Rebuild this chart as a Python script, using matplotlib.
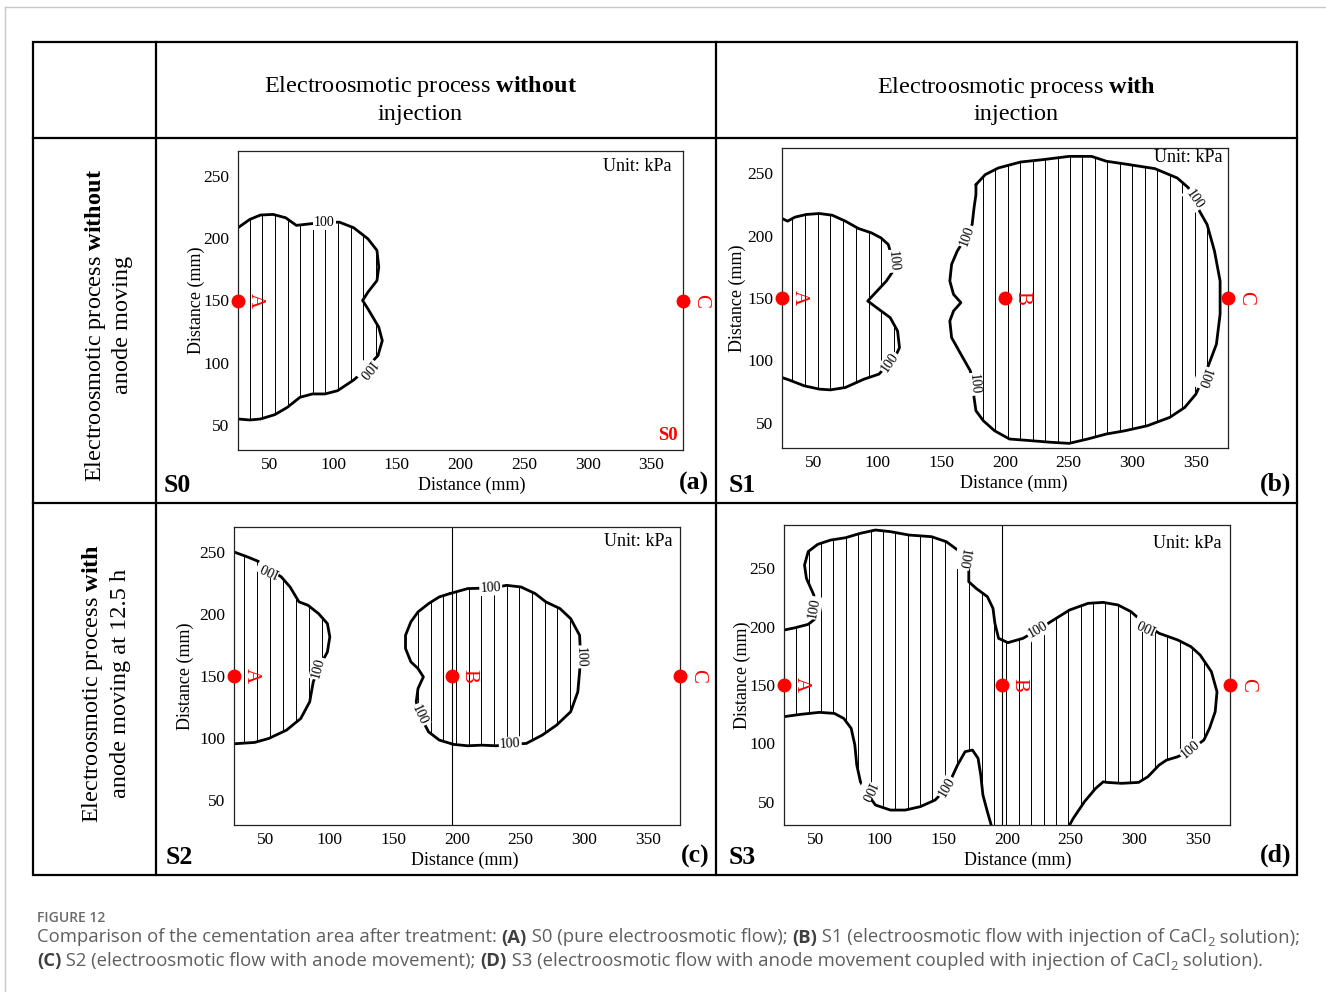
import numpy as np
import matplotlib
matplotlib.use("Agg")
import matplotlib.pyplot as plt
from matplotlib.patches import Polygon, Rectangle
from matplotlib.font_manager import FontProperties

plt.rcParams["font.family"] = "Liberation Serif"
plt.rcParams["mathtext.fontset"] = "custom"
plt.rcParams["mathtext.rm"] = "Liberation Serif"
plt.rcParams["mathtext.bf"] = "Liberation Serif:bold"

# ---- data (mm) ----
a_x = [25, 34.3, 42.7, 52.6, 62.5, 70.9, 82.2, 92.9, 104.7, 116, 127.2, 134.3, 135.7, 134.3,
       127.2, 123, 127.2, 135.7, 138.5, 135.1, 130, 125.8, 116, 103.3, 93.4, 83.6, 73.7,
       63.9, 54, 42.7, 34.3, 25]
a_y = [208.4, 215.1, 218.6, 219.1, 216.4, 210.3, 211.6, 212.5, 212.9, 208.4, 199.5, 190.2,
       176.8, 166, 156.7, 150, 143.3, 128.6, 117.8, 105.8, 100.4, 95, 86.2, 77.6, 75, 75,
       72.3, 64.3, 58.4, 54.9, 54.1, 54.9]

b_left_x = [25, 29.4, 35.2, 44, 54.3, 64.5, 74.7, 85, 95.2, 102.5, 108.4, 111.5, 111.3, 106.9,
            99.6, 92.3, 101.1, 109.9, 115.7, 117.2, 114.2, 101.1, 89.4, 74.7, 63, 54.3, 42.6,
            30.9, 25]
b_left_y = [213.6, 211.5, 214.7, 216.8, 217.6, 216.2, 211.5, 205.6, 202.1, 198.2, 192.8, 182,
            170.2, 163.6, 155.6, 147.6, 140.9, 134.3, 123.6, 110.3, 103.7, 89.1, 85.1, 78.4,
            76.5, 77.1, 79.7, 84.3, 86.4]
b_right_x = [177.2, 184.5, 194.7, 212.3, 229.8, 250.3, 267.9, 279.6, 294.2, 317.6, 335.2, 344,
             348.4, 352.7, 358.6, 364.4, 368.8, 368.8, 365.9, 360, 355.6, 349.8, 341, 329.3,
             311.7, 294.2, 279.6, 264.9, 250.3, 235.7, 221.1, 203.5, 191.8, 183, 177.2, 175.7,
             174.2, 172.8, 165.4, 158.1, 156.7, 159.6, 165.4, 159.6, 156.7, 158.1, 162.5,
             169.8, 174.2, 175.7, 177.2]
b_right_y = [240.7, 248.7, 254, 258.8, 260.7, 263.3, 263.3, 259.4, 257.2, 253.5, 246, 238.1,
             228.8, 219.4, 208.8, 187.5, 163.6, 137, 113, 97, 86.4, 73.1, 62.4, 54.5, 47.8,
             43.8, 41.2, 37.2, 33.7, 34.6, 35.8, 37.2, 43.8, 51.8, 59.8, 70.4, 83.7, 91.7, 105,
             118.3, 131.6, 139.6, 146.3, 152.9, 163.6, 176.9, 187.5, 199.5, 208.8, 222.1, 232.7]

c_left_x = [25, 35.6, 45.3, 52.3, 62.1, 69, 76, 83, 91.3, 98.3, 100.2, 98.3, 91.3, 87.2, 84.4,
            77.4, 66.2, 52.3, 41.2, 25]
c_left_y = [249.9, 245.9, 241.8, 236.5, 229.8, 221.7, 209.7, 207, 200.3, 192.2, 181.5, 169.4,
            156, 145.3, 129.2, 115.8, 106.4, 99.7, 96.5, 95.4]
c_right_x = [194.5, 208.4, 226.5, 239, 250.2, 261.3, 269.7, 280.8, 289.2, 296.2, 297, 296.2,
             294.8, 289.2, 278.1, 266.9, 254.4, 241.8, 230.7, 219.5, 208.4, 197.3, 186.1, 177.7,
             170.8, 168, 169.4, 173.6, 169.4, 163.8, 159.6, 159.6, 163.8, 169.4, 177.7, 186.1]
c_right_y = [216.4, 220.4, 220.9, 223, 221.7, 216.4, 209.7, 204.3, 196.2, 182.8, 165.4, 153.3,
             137.2, 121.2, 110.4, 102.4, 95.7, 94.9, 93.8, 94.3, 93.8, 94.9, 98.4, 105, 118.5,
             129.2, 139.9, 149.3, 156, 161.4, 172.1, 182.8, 193.6, 201.6, 208.3, 213.7]

d_upper_x = [25, 33.8, 44, 49.9, 48.8, 48.4, 42.6, 41.1, 44, 51.4, 61.6, 73.3, 85, 96.8, 108.5,
             123.1, 140.7, 152.4, 161.2, 165.6, 170, 170, 175.8, 184.6, 189, 190.5, 193.4,
             200.7, 212.5, 224.2, 234.4, 249.1, 263.7, 275.4, 287.1, 297.4, 309.1, 319.4, 334,
             344.3, 351.6, 360.4, 364.8, 363.4, 358.9, 354.5, 344.3, 334, 325.2, 319.4, 310.6,
             303.3, 290.1, 278.4, 275.5, 269.6, 260.8, 252, 249.1]
d_upper_y = [197, 199, 201.9, 207, 219.9, 227, 241.3, 252.7, 264.2, 270.4, 274.1, 276.1, 279.9,
             282.7, 281.3, 278.4, 277, 272.7, 265.6, 258.4, 248.4, 238.4, 232.7, 225.6, 215.6,
             202.8, 189.9, 186.2, 189.9, 197, 204.2, 214.2, 219.9, 220.7, 218.5, 212.7, 201.3,
             194.2, 188.5, 182.8, 175.6, 161.3, 144.2, 127.1, 112.8, 102.8, 94.2, 88.5, 85.6,
             81.4, 71.4, 66.5, 65.7, 66.5, 67, 61.4, 50, 35.7, 30]
d_lower_x = [187.6, 184.6, 181.1, 179.4, 177.3, 172.9, 167.1, 161.2, 153, 143.6, 131.9, 120.2,
             108.5, 96.8, 89.4, 85, 82.1, 80.6, 77.7, 71.9, 64.5, 52.8, 38.2, 25]
d_lower_y = [30, 41.4, 55.7, 72.8, 87.1, 94.2, 92.8, 81.4, 62, 51.4, 45.7, 42.8, 42.8, 47.1,
             58, 67, 81.4, 98.5, 112.8, 121.3, 125.6, 126.5, 124.8, 122.8]

# contour label positions: (x, y, rotation)
a_labels = [(92.9, 212.9, 0), (125.8, 95.1, 230)]
b_labels = [(112.2, 179.5, -85), (109.3, 98.4, 55), (169.8, 199.5, 70), (348.4, 228.8, -55),
            (355.6, 86.4, -110), (175.7, 81, -85)]
c_labels = [(52.3, 236.5, 155), (91.3, 156, 75), (226.5, 220.9, 3), (297, 165.4, -88),
            (241.8, 94.9, 3), (170.8, 118.5, -65)]
d_labels = [(48.6, 216, 80), (165.6, 258.4, -100), (224.2, 197, 30), (309.1, 201.3, 155),
            (344.3, 94.2, 40), (153, 62, 60), (89.4, 58, -115)]

a_points = {"A": 25, "C": 375}
b_points = {"A": 25, "B": 200, "C": 375}
c_points = {"A": 25, "B": 196, "C": 375}
d_points = {"A": 25, "B": 196, "C": 375}
point_y = 150

x_ticks = [50, 100, 150, 200, 250, 300, 350]
y_ticks = [50, 100, 150, 200, 250]

W, H = 1326, 992
fig = plt.figure(figsize=(W / 100, H / 100), dpi=100)
bg = fig.add_axes([0, 0, 1, 1])
bg.set_xlim(0, W)
bg.set_ylim(H, 0)
bg.axis("off")

# page frame and table grid
bg.plot([5, 5], [7, H], color="#c8c8c8", lw=1)
bg.plot([5, W], [7, 7], color="#c8c8c8", lw=1)
bg.add_patch(Rectangle((33, 42), 1264, 833, fill=False, lw=1.6, ec="k"))
bg.plot([156, 156], [42, 875], "k", lw=1.6)
bg.plot([716, 716], [42, 875], "k", lw=1.6)
bg.plot([33, 1297], [138, 138], "k", lw=1.6)
bg.plot([33, 1297], [503, 503], "k", lw=1.6)

hdr = dict(ha="center", va="center", fontsize=17.5, linespacing=1.3, multialignment="center")
bg.text(420.5, 99.5, "Electroosmotic process $\\mathbf{without}$\ninjection", **hdr)
bg.text(1016.5, 100, "Electroosmotic process $\\mathbf{with}$\ninjection", **hdr)
bg.text(108, 325, "Electroosmotic process $\\mathbf{without}$\nanode moving", rotation=90, **hdr)
bg.text(105.5, 683, "Electroosmotic process $\\mathbf{with}$\nanode moving at 12.5 h", rotation=90, **hdr)

tag = dict(fontsize=18.5, fontweight="bold", va="center")
bg.text(164, 485, "S0", ha="left", **tag)
bg.text(709, 483, "(a)", ha="right", **tag)
bg.text(729, 485, "S1", ha="left", **tag)
bg.text(1291, 484, "(b)", ha="right", **tag)
bg.text(166, 858, "S2", ha="left", **tag)
bg.text(709, 856, "(c)", ha="right", **tag)
bg.text(729, 857, "S3", ha="left", **tag)
bg.text(1291, 855, "(d)", ha="right", **tag)


def panel(box, ylim, shapes, labels, points, unit_pos, xlab_x, ylab_x, vline=None):
    l, t, r, b = box
    ax = fig.add_axes([l / W, 1 - b / H, (r - l) / W, (b - t) / H])
    ax.set_xlim(25, 375)
    ax.set_ylim(*ylim)
    ax.set_xticks(x_ticks)
    ax.set_yticks(y_ticks)
    ax.tick_params(length=0, labelsize=12.5)
    ax.tick_params(axis="x", pad=5)
    ax.tick_params(axis="y", pad=6)
    for s in ax.spines.values():
        s.set_linewidth(0.9)
        s.set_color("#222222")
    if vline is not None:
        ax.axvline(vline, color="k", lw=0.8)
    for pieces, closed, x0, step in shapes:
        px = np.concatenate([p[0] for p in pieces])
        py = np.concatenate([p[1] for p in pieces])
        poly = Polygon(np.column_stack([px, py]), closed=True, fc="none", ec="none")
        ax.add_patch(poly)
        hatch = ax.vlines(np.arange(x0, 376, step), ylim[0], ylim[1], colors="k", lw=0.7)
        hatch.set_clip_path(poly)
        for p in pieces:
            lx, ly = list(p[0]), list(p[1])
            if closed:
                lx, ly = lx + lx[:1], ly + ly[:1]
            ax.plot(lx, ly, color="k", lw=2.0, solid_joinstyle="round",
                    solid_capstyle="round")
    for x, y, rot in labels:
        ax.text(x, y, "100", fontsize=10, rotation=rot, rotation_mode="anchor",
                ha="center", va="center", zorder=4,
                bbox=dict(boxstyle="square,pad=0.08", fc="white", ec="none"))
    for name, x in points.items():
        ax.plot(x, point_y, "o", color="#ff0000", ms=9, clip_on=False, zorder=6)
        ax.annotate(name, (x, point_y), xytext=(12.5, 0), textcoords="offset points",
                    rotation=-90, color="#ff0000", fontsize=15, ha="center", va="center",
                    annotation_clip=False, zorder=6)
    ax.text(unit_pos[0], unit_pos[1], "Unit: kPa", transform=ax.transAxes, fontsize=13,
            ha="right", va="center")
    ax.set_xlabel("Distance (mm)", fontsize=13)
    ax.xaxis.label.set_va("center")
    ax.xaxis.set_label_coords(xlab_x, -0.117)
    ax.set_ylabel("Distance (mm)", fontsize=13)
    ax.yaxis.label.set_va("center")
    ax.yaxis.set_label_coords(ylab_x, 0.5)
    return ax


ax_a = panel((238, 151, 683, 450), (30, 270), [([(a_x, a_y)], False, 34.3, 9.9)], a_labels,
             a_points, (0.975, 0.947), 0.526, -0.094)
ax_a.text(0.987, 0.047, "S0", transform=ax_a.transAxes, color="#ff0000", fontsize=13.5,
          fontweight="bold", ha="right", va="center")

panel((782, 148, 1228, 448), (30, 270),
      [([(b_left_x, b_left_y)], False, 32.9, 10.0),
       ([(b_right_x, b_right_y)], True, 182.4, 9.8)],
      b_labels, b_points, (0.987, 0.967), 0.52, -0.101)

panel((234, 527, 680, 825), (30, 270),
      [([(c_left_x, c_left_y)], False, 32.8, 10.2),
       ([(c_right_x, c_right_y)], True, 169.4, 9.95)],
      c_labels, c_points, (0.984, 0.95), 0.518, -0.108, vline=196)

panel((784, 525, 1230, 825), (30, 287),
      [([(d_upper_x, d_upper_y), (d_lower_x, d_lower_y)], False, 34.7, 9.7)],
      d_labels, d_points, (0.982, 0.94), 0.525, -0.094, vline=196)

# ---- caption ----
R = fig.canvas.get_renderer()
cap_family = ["Open Sans", "DejaVu Sans"]


def text_width(s, fp):
    w1 = R.get_text_width_height_descent("|" + s + "|", fp, ismath=False)[0]
    w0 = R.get_text_width_height_descent("||", fp, ismath=False)[0]
    return w1 - w0


def runs(x, y, parts, size):
    for s, kind in parts:
        fs = size * 0.7 if kind == "sub" else size
        wt = "bold" if kind == "b" else "normal"
        col = "#3f3f3f" if kind == "b" else "#5e5e5e"
        dy = 4 if kind == "sub" else 0
        fp = FontProperties(family=cap_family, size=fs, weight=wt)
        bg.text(x, y + dy, s, fontproperties=fp, color=col, ha="left", va="baseline")
        x += text_width(s, fp)


bg.text(37, 921.5, "FIGURE 12", fontproperties=FontProperties(family=cap_family, size=10,
        weight="semibold"), color="#6a6a6a", ha="left", va="baseline")
cap_size = 13.3
runs(37, 942.5, [("Comparison of the cementation area after treatment: ", "n"), ("(A)", "b"),
                 (" S0 (pure electroosmotic flow); ", "n"), ("(B)", "b"),
                 (" S1 (electroosmotic flow with injection of CaCl", "n"), ("2", "sub"),
                 (" solution);", "n")], cap_size)
runs(37, 966, [("(C)", "b"), (" S2 (electroosmotic flow with anode movement); ", "n"),
               ("(D)", "b"),
               (" S3 (electroosmotic flow with anode movement coupled with injection of CaCl", "n"),
               ("2", "sub"), (" solution).", "n")], cap_size)

fig.savefig("out.png", dpi=100)
